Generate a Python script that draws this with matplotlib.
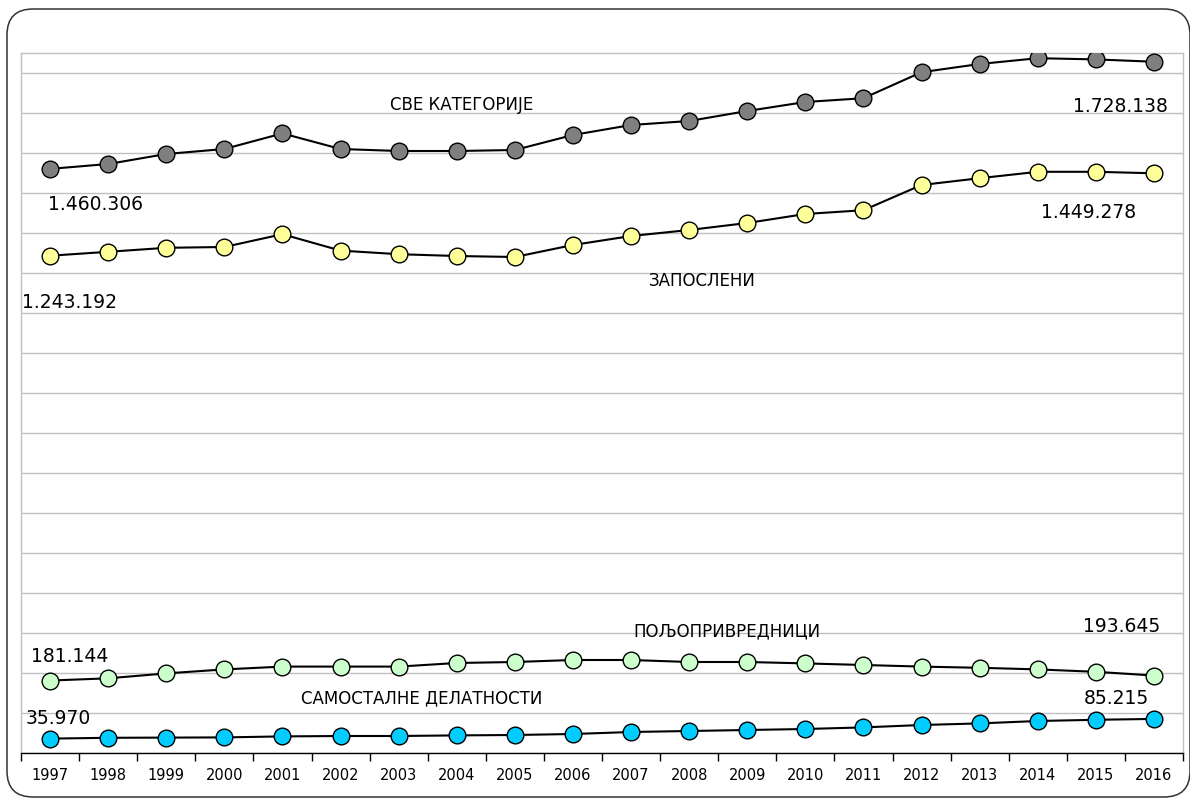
import numpy as np
from matplotlib import pyplot as plt
from matplotlib.patches import FancyBboxPatch

years = ['1997', '1998', '1999', '2000', '2001', '2002', '2003', '2004', '2005', '2006',
         '2007', '2008', '2009', '2010', '2011', '2012', '2013', '2014', '2015', '2016']

# СВЕ КАТЕГОРИЈЕ
total = [1460306, 1472500, 1497500, 1510000, 1549000, 1510000, 1505000, 1505000, 1507500, 1545000,
         1570000, 1580000, 1605000, 1627500, 1637000, 1702000, 1722500, 1737000, 1734000, 1728138]
# ЗАПОСЛЕНИ
employed = [1243192, 1253000, 1263000, 1265000, 1297000, 1256000, 1247000, 1242500, 1240000, 1270000,
            1292500, 1307500, 1325000, 1347500, 1357000, 1420000, 1437000, 1453000, 1453000, 1449278]
# ПОЉОПРИВРЕДНИЦИ
farmers = [181144, 186700, 199000, 209000, 216000, 216000, 216000, 225000, 227500, 232500,
           232500, 227500, 227500, 224000, 220000, 216000, 213000, 209000, 203000, 193645]
# САМОСТАЛНЕ ДЕЛАТНОСТИ
self_emp = [35970, 38000, 38500, 39000, 41500, 42500, 42500, 44000, 45000, 47500,
            52500, 55000, 57500, 60000, 64000, 70000, 74000, 80000, 83000, 85215]

x = np.arange(len(years))

fig = plt.figure(figsize=(11.9, 8), dpi=100)

# rounded outer frame
frame = FancyBboxPatch((0.07, 0.03), 11.83, 7.88, boxstyle="round,pad=0,rounding_size=0.26",
                       transform=fig.dpi_scale_trans, facecolor='none', edgecolor='#333333',
                       linewidth=1.1, zorder=-1)
fig.patches.append(frame)

ax = fig.add_axes([21/1190, 47/800, 1162/1190, 700/800])
ax.set_facecolor('none')

series = [(total, '#7f7f7f'), (employed, '#ffff99'), (farmers, '#ccffcc'), (self_emp, '#00ccff')]
for vals, col in series:
    ax.plot(x, vals, color='black', linewidth=1.5, marker='o', markersize=12,
            markerfacecolor=col, markeredgecolor='black', markeredgewidth=1.0, zorder=3)

ax.set_xlim(-0.5, len(years) - 0.5)
ax.set_ylim(0, 1750000)
ax.set_yticks(np.arange(0, 1750001, 100000))
ax.set_yticklabels([])
ax.tick_params(axis='y', length=0)
ax.grid(axis='y', color='#c0c0c0', linewidth=1.0, zorder=0)

ax.set_xticks(x)
ax.set_xticklabels(years, fontsize=10.5)
ax.set_xticks(np.arange(-0.5, len(years), 1), minor=True)
ax.tick_params(axis='x', which='major', length=0, pad=11)
ax.tick_params(axis='x', which='minor', length=6, width=1, color='black', direction='out')

for s in ['left', 'right', 'top']:
    ax.spines[s].set_color('#c0c0c0')
    ax.spines[s].set_linewidth(1.0)
ax.spines['bottom'].set_color('black')
ax.spines['bottom'].set_linewidth(1.0)

# labels
vs = 13.5
ns = 12
ax.text(0.79, 1370000, '1.460.306', fontsize=vs, ha='center', va='center')
ax.text(7.09, 1620000, 'СВЕ КАТЕГОРИЈЕ', fontsize=ns, ha='center', va='center')
ax.text(18.42, 1617500, '1.728.138', fontsize=vs, ha='center', va='center')
ax.text(17.88, 1350000, '1.449.278', fontsize=vs, ha='center', va='center')
ax.text(11.22, 1180000, 'ЗАПОСЛЕНИ', fontsize=ns, ha='center', va='center')
ax.text(0.34, 1127500, '1.243.192', fontsize=vs, ha='center', va='center')
ax.text(11.65, 305000, 'ПОЉОПРИВРЕДНИЦИ', fontsize=ns, ha='center', va='center')
ax.text(0.34, 242500, '181.144', fontsize=vs, ha='center', va='center')
ax.text(18.45, 317500, '193.645', fontsize=vs, ha='center', va='center')
ax.text(6.4, 137500, 'САМОСТАЛНЕ ДЕЛАТНОСТИ', fontsize=ns, ha='center', va='center')
ax.text(0.14, 87500, '35.970', fontsize=vs, ha='center', va='center')
ax.text(18.36, 137500, '85.215', fontsize=vs, ha='center', va='center')

fig.savefig('out.png', dpi=100)
